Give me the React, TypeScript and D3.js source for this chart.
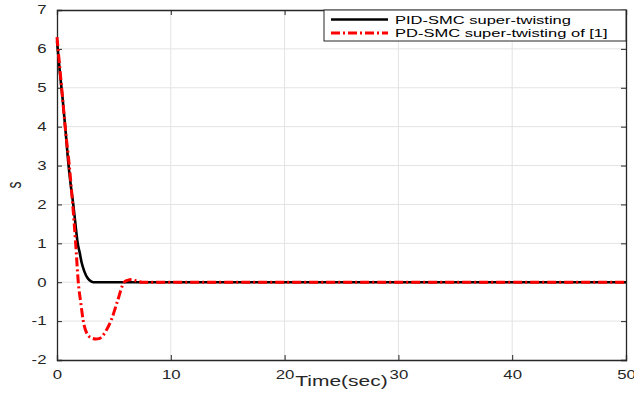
import React, { useEffect, useRef } from "react";
import * as d3 from "d3";

// time (sec) and sliding surface s for both controllers
const pidTime = [0, 0.25, 0.5, 0.75, 1.0, 1.25, 1.43, 1.6, 1.82, 2.0, 2.17, 2.4, 2.7, 3.0, 3.2, 3.5, 10, 20, 30, 40, 50];
const pidS = [6.2, 5.4, 4.7, 3.9, 3.05, 2.4, 2.0, 1.55, 1.0, 0.75, 0.5, 0.28, 0.1, 0.02, 0, 0, 0, 0, 0, 0, 0];

const pdTime = [0, 0.25, 0.5, 0.75, 1.08, 1.38, 1.64, 1.87, 2.1, 2.31, 2.6, 3.0, 3.4, 3.7, 4.0, 4.4, 4.8, 5.3, 5.9, 6.2, 6.55, 7.0, 7.5, 10, 20, 30, 40, 50];
const pdS = [6.3, 5.5, 4.7, 3.9, 3.0, 2.0, 1.0, 0, -0.55, -1.0, -1.3, -1.43, -1.46, -1.45, -1.38, -1.2, -0.95, -0.5, 0, 0.05, 0.07, 0.03, 0, 0, 0, 0, 0, 0];

const xTicks = [0, 10, 20, 30, 40, 50];
const yTicks = [-2, -1, 0, 1, 2, 3, 4, 5, 6, 7];
const legendLabels = ["PID-SMC super-twisting", "PD-SMC super-twisting of [1]"];

const W = 634;
const H = 400;
const FONT = "'Liberation Sans', Arial, Helvetica, sans-serif";
const SX = 1.4; // the original figure's text is stretched sideways

const App = () => {
  const ref = useRef<SVGSVGElement>(null);

  useEffect(() => {
    const svg = d3.select(ref.current);
    svg.selectAll("*").remove();

    const left = 57, right = 626, top = 10, bottom = 360;
    const x = d3.scaleLinear().domain([0, 50]).range([left, right]);
    const y = d3.scaleLinear().domain([-2, 7]).range([bottom, top]);

    svg.append("rect").attr("width", W).attr("height", H).attr("fill", "#fff");

    // grid
    const grid = svg.append("g").attr("stroke", "#e3e3e3").attr("stroke-width", 1);
    grid.selectAll(".gx").data(xTicks.slice(1, -1)).enter().append("line")
      .attr("x1", (d) => x(d)).attr("x2", (d) => x(d))
      .attr("y1", top).attr("y2", bottom);
    grid.selectAll(".gy").data(yTicks.slice(1, -1)).enter().append("line")
      .attr("x1", left).attr("x2", right)
      .attr("y1", (d) => y(d)).attr("y2", (d) => y(d));

    // axes (ticks inside)
    const fmt = (d: d3.NumberValue) => String(d);
    const xAxis = d3.axisBottom(x).tickValues(xTicks).tickSize(-5).tickPadding(10).tickFormat(fmt);
    const yAxis = d3.axisLeft(y).tickValues(yTicks).tickSize(-5).tickPadding(7.5).tickFormat(fmt);
    const xg = svg.append("g").attr("transform", `translate(0,${bottom})`).call(xAxis);
    const yg = svg.append("g").attr("transform", `translate(${left},0)`).call(yAxis);
    const xTop = svg.append("g").attr("transform", `translate(0,${top})`)
      .call(d3.axisTop(x).tickValues(xTicks).tickSize(-5).tickFormat(() => ""));
    const yRight = svg.append("g").attr("transform", `translate(${right},0)`)
      .call(d3.axisRight(y).tickValues(yTicks).tickSize(-5).tickFormat(() => ""));
    [xg, yg, xTop, yRight].forEach((g) => {
      g.select(".domain").attr("stroke", "#262626").attr("stroke-width", 1.3);
      g.selectAll(".tick line").attr("stroke", "#262626");
      g.selectAll("text")
        .attr("font-family", FONT).attr("font-size", 12).attr("fill", "#262626")
        .attr("transform", `scale(${SX},1)`);
    });

    const line = d3.line<[number, number]>()
      .x((d) => x(d[0]))
      .y((d) => y(d[1]))
      .curve(d3.curveMonotoneX);

    svg.append("path")
      .datum(pidTime.map((t, i) => [t, pidS[i]] as [number, number]))
      .attr("d", line)
      .attr("fill", "none")
      .attr("stroke", "#000")
      .attr("stroke-width", 2.6);

    svg.append("path")
      .datum(pdTime.map((t, i) => [t, pdS[i]] as [number, number]))
      .attr("d", line)
      .attr("fill", "none")
      .attr("stroke", "#ff0000")
      .attr("stroke-width", 3)
      .attr("stroke-dasharray", "9,3,2,3");

    // axis labels
    svg.append("text")
      .attr("transform", `translate(${(left + right) / 2},386) scale(${SX},1)`)
      .attr("text-anchor", "middle")
      .attr("font-family", FONT).attr("font-size", 15).attr("fill", "#262626")
      .text("Time(sec)");
    svg.append("text")
      .attr("transform", `translate(21,185) scale(${SX},1) rotate(-90)`)
      .attr("text-anchor", "middle")
      .attr("font-family", FONT).attr("font-size", 14).attr("fill", "#262626")
      .text("s");

    // legend
    const lg = svg.append("g");
    lg.append("rect")
      .attr("x", 324).attr("y", 10).attr("width", right - 324).attr("height", 31)
      .attr("fill", "#fff").attr("stroke", "#262626").attr("stroke-width", 1);
    const styles = [
      { color: "#000", dash: null, w: 2.6 },
      { color: "#ff0000", dash: "9,3,2,3", w: 3 },
    ];
    legendLabels.forEach((label, i) => {
      const cy = 19.5 + i * 13.5;
      lg.append("line")
        .attr("x1", 331).attr("x2", 388).attr("y1", cy).attr("y2", cy)
        .attr("stroke", styles[i].color).attr("stroke-width", styles[i].w)
        .attr("stroke-dasharray", styles[i].dash);
      lg.append("text")
        .attr("transform", `translate(395,${cy + 4}) scale(1.5,1)`)
        .attr("font-family", FONT).attr("font-size", 11).attr("fill", "#000")
        .text(label);
    });
  }, []);

  return (
    <svg
      ref={ref}
      width={W}
      height={H}
      style={{ position: "absolute", left: 0, top: 0, display: "block" }}
    ></svg>
  );
};

export default App;
